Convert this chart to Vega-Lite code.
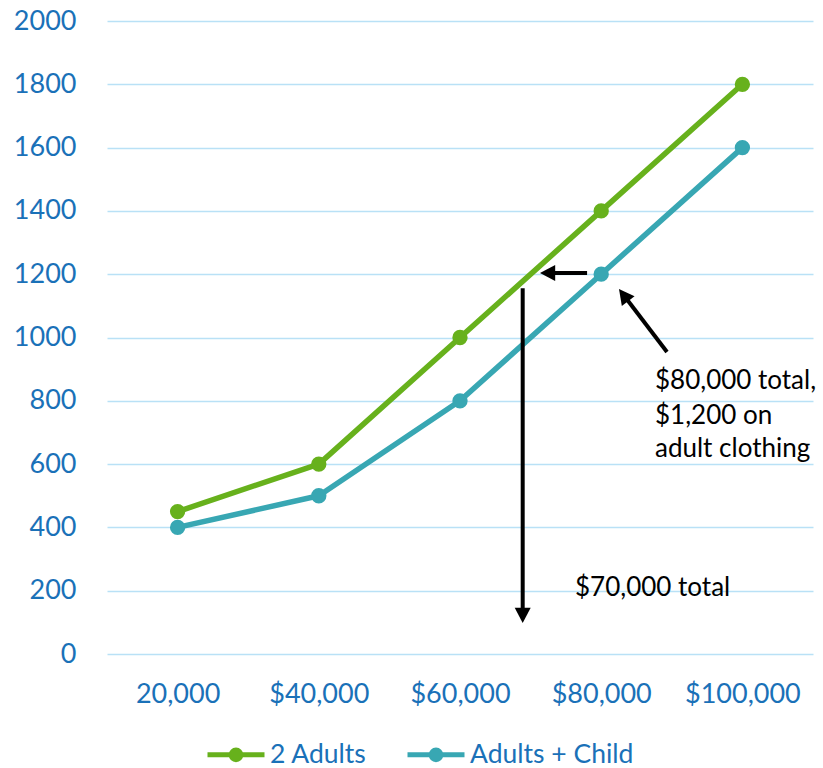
{
  "$schema": "https://vega.github.io/schema/vega-lite/v6.json",
  "width": 706,
  "height": 633,
  "autosize": {"type": "none"},
  "padding": {"left": 107, "top": 21, "right": 10, "bottom": 114},
  "background": "white",
  "config": {"view": {"stroke": null}, "font": "Lato"},
  "datasets": {
    "series": [
      {"income": 20000, "spend": 450, "household": "2 Adults"},
      {"income": 40000, "spend": 600, "household": "2 Adults"},
      {"income": 60000, "spend": 1000, "household": "2 Adults"},
      {"income": 80000, "spend": 1400, "household": "2 Adults"},
      {"income": 100000, "spend": 1800, "household": "2 Adults"},
      {"income": 20000, "spend": 400, "household": "Adults + Child"},
      {"income": 40000, "spend": 500, "household": "Adults + Child"},
      {"income": 60000, "spend": 800, "household": "Adults + Child"},
      {"income": 80000, "spend": 1200, "household": "Adults + Child"},
      {"income": 100000, "spend": 1600, "household": "Adults + Child"}
    ],
    "arrows": [
      {"x": 68880, "y": 1156, "x2": 68880, "y2": 136, "tx": 68880, "ty": 98, "angle": 0},
      {"x": 78000, "y": 1204, "x2": 73030, "y2": 1204, "tx": 71330, "ty": 1204, "angle": 90},
      {"x": 89320, "y": 954, "x2": 83550, "y2": 1123, "tx": 82520, "ty": 1153, "angle": 142.7}
    ],
    "notes": [
      {"x": 87620, "y": 862, "text": "$80,000 total,"},
      {"x": 87620, "y": 752, "text": "$1,200 on"},
      {"x": 87620, "y": 648, "text": "adult clothing"},
      {"x": 76290, "y": 208, "text": "$70,000 total"}
    ]
  },
  "layer": [
    {
      "data": {"name": "series"},
      "mark": {"type": "line", "strokeWidth": 5.5, "strokeJoin": "round", "point": {"filled": true, "size": 235, "opacity": 1}},
      "encoding": {
        "x": {
          "field": "income", "type": "quantitative",
          "scale": {"domain": [10000, 110000], "nice": false, "zero": false},
          "axis": {
            "values": [20000, 40000, 60000, 80000, 100000],
            "labelExpr": "datum.value == 20000 ? '20,000' : '$' + format(datum.value, ',')",
            "grid": false, "domain": false, "ticks": false, "title": null,
            "labelFontSize": 27, "labelColor": "#1a71b8", "labelPadding": 27,
            "labelFlush": false, "labelOverlap": false, "labelFont": "Lato"
          }
        },
        "y": {
          "field": "spend", "type": "quantitative",
          "scale": {"domain": [0, 2000], "nice": false},
          "axis": {
            "values": [0, 200, 400, 600, 800, 1000, 1200, 1400, 1600, 1800, 2000],
            "format": "d",
            "grid": true, "gridColor": "#b9e1f6", "gridWidth": 1.6,
            "domain": false, "ticks": false, "title": null,
            "labelFontSize": 27, "labelColor": "#1a71b8", "labelPadding": 31,
            "labelFont": "Lato", "labelOverlap": false
          }
        },
        "color": {
          "field": "household", "type": "nominal",
          "scale": {"domain": ["2 Adults", "Adults + Child"], "range": ["#67b11c", "#38a7b3"]},
          "legend": {
            "orient": "none", "legendX": 111.5, "legendY": 716, "direction": "horizontal",
            "title": null, "padding": 0,
            "symbolType": "M-1.9,0L1.9,0M0.32,0A0.32,0.32,0,1,1,-0.32,0A0.32,0.32,0,1,1,0.32,0Z",
            "symbolSize": 900, "symbolStrokeWidth": 5,
            "labelFontSize": 26.5, "labelColor": "#1a71b8", "labelFont": "Lato",
            "labelOffset": 16.5, "columnPadding": 30, "labelLimit": 500,
            "encode": {
              "symbols": {
                "update": {
                  "fill": {"scale": "color", "field": "value"},
                  "stroke": {"scale": "color", "field": "value"},
                  "opacity": {"value": 1}
                }
              }
            }
          }
        }
      }
    },
    {
      "data": {"name": "arrows"},
      "mark": {"type": "rule", "strokeWidth": 4, "color": "#000000"},
      "encoding": {
        "x": {"field": "x", "type": "quantitative"},
        "y": {"field": "y", "type": "quantitative"},
        "x2": {"field": "x2"},
        "y2": {"field": "y2"}
      }
    },
    {
      "data": {"name": "arrows"},
      "mark": {"type": "point", "shape": "M0,0L-1,-1.9L1,-1.9Z", "filled": true, "size": 256, "color": "#000000", "opacity": 1, "strokeWidth": 0},
      "encoding": {
        "x": {"field": "tx", "type": "quantitative"},
        "y": {"field": "ty", "type": "quantitative"},
        "angle": {"field": "angle", "type": "quantitative", "scale": null}
      }
    },
    {
      "data": {"name": "notes"},
      "mark": {"type": "text", "align": "left", "baseline": "middle", "fontSize": 26, "color": "#000000", "font": "Lato"},
      "encoding": {
        "x": {"field": "x", "type": "quantitative"},
        "y": {"field": "y", "type": "quantitative"},
        "text": {"field": "text", "type": "nominal"}
      }
    }
  ]
}
